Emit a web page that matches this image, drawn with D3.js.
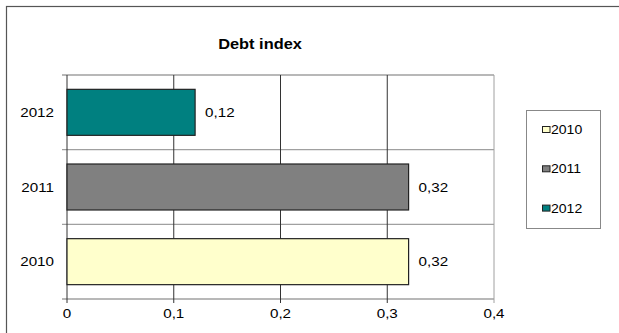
<!DOCTYPE html>
<html><head><meta charset="utf-8">
<script src="https://cdn.jsdelivr.net/npm/d3@7"></script>
<style>body{margin:0;background:#fff}svg{display:block}text{font-family:"Liberation Sans",Arial,sans-serif;fill:#000}</style>
</head><body>
<script>
const categories = ["2010", "2011", "2012"];
const values = [0.32, 0.32, 0.12];
const valueLabels = ["0,32", "0,32", "0,12"];
const colors = ["#FFFFCC", "#808080", "#008080"];
const xTicks = [0, 0.1, 0.2, 0.3, 0.4];
const xTickLabels = ["0", "0,1", "0,2", "0,3", "0,4"];
const title = "Debt index";

const W = 619, H = 333, SX = 1.17;
const svg = d3.select("body").append("svg").attr("width", W).attr("height", H);

// outer chart border
svg.append("rect").attr("x", 6.5).attr("y", 6.5).attr("width", W + 20).attr("height", H + 20)
  .attr("fill", "none").attr("stroke", "#555").attr("stroke-width", 1.2);

const x = d3.scaleLinear().domain([0, 0.4]).range([67, 494]);
const y = d3.scaleBand().domain(categories.slice().reverse()).range([75, 299]).paddingInner(0.384).paddingOuter(0.192);
const step = y.step();

function stext(g, tx, ty, str, anchor, size, weight) {
  return g.append("text").attr("transform", `translate(${tx},${ty}) scale(${SX},1)`)
    .attr("text-anchor", anchor).attr("font-size", size).attr("font-weight", weight || "normal").text(str);
}

// title
stext(svg, 260, 49, title, "middle", 14, "bold");

// horizontal gridlines (band boundaries)
const bounds = categories.map((c, i) => 75 + i * step).concat([299]);
svg.append("g").selectAll("line").data(bounds).join("line")
  .attr("x1", 62).attr("x2", x(0.4)).attr("y1", d => d).attr("y2", d => d)
  .attr("stroke", "#a0a0a0").attr("stroke-width", 1.3);

// vertical gridlines
svg.append("g").selectAll("line").data(xTicks.slice(1)).join("line")
  .attr("x1", d => x(d)).attr("x2", d => x(d)).attr("y1", 75).attr("y2", 303)
  .attr("stroke", (d, i) => i === xTicks.length - 2 ? "#a0a0a0" : "#333").attr("stroke-width", 1);
svg.append("line").attr("x1", x(0)).attr("x2", x(0)).attr("y1", 75).attr("y2", 303)
  .attr("stroke", "#333").attr("stroke-width", 1);

// bars
svg.append("g").selectAll("rect").data(categories).join("rect")
  .attr("x", x(0)).attr("y", d => y(d)).attr("height", y.bandwidth())
  .attr("width", (d, i) => x(values[i]) - x(0))
  .attr("fill", (d, i) => colors[i]).attr("stroke", "#222").attr("stroke-width", 1.2);

// value labels
categories.forEach((c, i) => {
  stext(svg, x(values[i]) + 10, y(c) + y.bandwidth() / 2 + 4.5, valueLabels[i], "start", 13);
});

// y category labels
categories.forEach(c => {
  stext(svg, 54, y(c) + y.bandwidth() / 2 + 4.5, c, "end", 13);
});

// x tick labels
xTicks.forEach((t, i) => {
  stext(svg, x(t), 318, xTickLabels[i], "middle", 13);
});

// legend
const lg = svg.append("g");
lg.append("rect").attr("x", 526.5).attr("y", 110.5).attr("width", 74).attr("height", 118)
  .attr("fill", "#fff").attr("stroke", "#888").attr("stroke-width", 1);
categories.forEach((c, i) => {
  const cy = 129.5 + i * 39.3;
  lg.append("rect").attr("x", 542.5).attr("y", cy - 3).attr("width", 7.5).attr("height", 6)
    .attr("fill", colors[i]).attr("stroke", "#222").attr("stroke-width", 1);
  stext(lg, 551, cy + 4.5, c, "start", 12);
});
</script>
</body></html>
